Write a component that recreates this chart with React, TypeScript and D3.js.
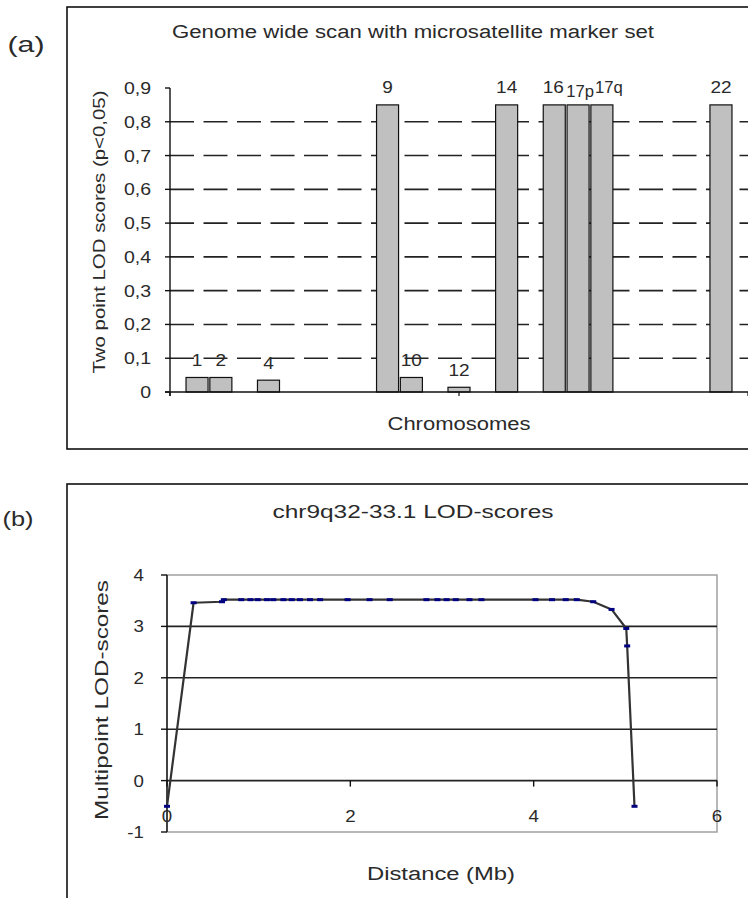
import React from "react";
import * as d3 from "d3";

// ---------- Panel (a) data ----------
const chromosomes = ["1","2","3","4","5","6","7","8","9","10","11","12","13","14","15","16","17p","17q","18","19","20","21","22"];
const twoPointLod: (number | null)[] = [0.043,0.043,null,0.035,null,null,null,null,0.85,0.043,null,0.014,null,0.85,null,0.85,0.85,0.85,null,null,null,null,0.85];
const lodTicks = [0,0.1,0.2,0.3,0.4,0.5,0.6,0.7,0.8,0.9];
const lodTickLabels = ["0","0,1","0,2","0,3","0,4","0,5","0,6","0,7","0,8","0,9"];
const gridTicksA = [0.1,0.2,0.3,0.4,0.5,0.6,0.7,0.8];

// ---------- Panel (b) data ----------
const distanceMb = [0,0.29,0.6,0.62,0.81,0.91,0.99,1.09,1.16,1.27,1.36,1.45,1.56,1.67,1.97,2.21,2.43,2.83,2.95,3.05,3.15,3.3,3.43,4.02,4.2,4.35,4.47,4.65,4.85,5.01,5.02,5.1];
const multipointLod = [-0.5,3.46,3.48,3.52,3.52,3.52,3.52,3.52,3.52,3.52,3.52,3.52,3.52,3.52,3.52,3.52,3.52,3.52,3.52,3.52,3.52,3.52,3.52,3.52,3.52,3.52,3.52,3.48,3.33,2.96,2.62,-0.5];
const xTicksB = [0,2,4,6];
const yTicksB = [-1,0,1,2,3,4];
const gridTicksB = [0,1,2,3];

const FONT = "'Liberation Sans', Arial, Helvetica, sans-serif";
const TEXT = "#2a2a2a";

function ST({ x, y, size = 17, sx = 1.18, anchor = "middle", children }: any) {
  return (
    <text
      transform={`translate(${x},${y}) scale(${sx},1)`}
      textAnchor={anchor}
      fontSize={size}
      fontFamily={FONT}
      fill={TEXT}
    >
      {children}
    </text>
  );
}

function LT({ x, y, size = 17, len, anchor = "middle", rotate = 0, children }: any) {
  return (
    <text
      transform={`translate(${x},${y}) rotate(${rotate})`}
      textAnchor={anchor}
      fontSize={size}
      fontFamily={FONT}
      fill={TEXT}
      textLength={len}
      lengthAdjust="spacingAndGlyphs"
    >
      {children}
    </text>
  );
}

export default function App() {
  // Panel (a) scales
  const xA = d3.scaleBand<string>().domain(chromosomes).range([170, 748]).paddingInner(0.075).paddingOuter(0.673);
  const yA = d3.scaleLinear().domain([0, 0.9]).range([392, 88]);
  const labelShift: Record<string, [number, number]> = { "16": [-1, 0], "17p": [2, 3.5], "17q": [7, 0] };

  // Panel (b) scales
  const xB = d3.scaleLinear().domain([0, 6]).range([167, 717]);
  const yB = d3.scaleLinear().domain([-1, 4]).range([832, 575]);
  const line = d3.line<number>().x((d, i) => xB(distanceMb[i])).y((d) => yB(d));

  const [r0, r1] = xA.range();
  const xAxisTicks = [r0, (r0 + r1) / 2, r1];

  return (
    <svg width={748} height={898} style={{ position: "absolute", left: 0, top: 0, background: "#fff" }}>
      <rect x={0} y={0} width={748} height={898} fill="#fff" />

      {/* ---------------- Panel (a) ---------------- */}
      <rect x={67} y={7} width={720} height={442} fill="none" stroke="#111" strokeWidth={1.6} />
      <LT x={26} y={52} size={22} len={37}>(a)</LT>
      <LT x={413} y={38} size={18} len={482}>Genome wide scan with microsatellite marker set</LT>

      {gridTicksA.map((t) => (
        <line key={t} x1={170} x2={748} y1={yA(t)} y2={yA(t)} stroke="#222" strokeWidth={1.6} strokeDasharray="24,9.5" />
      ))}

      {chromosomes.map((c, i) => {
        const v = twoPointLod[i];
        if (v == null) return null;
        return (
          <rect key={c} x={xA(c)!} y={yA(v)} width={xA.bandwidth()} height={yA(0) - yA(v)} fill="#c0c0c0" stroke="#111" strokeWidth={1.2} />
        );
      })}
      {chromosomes.map((c, i) => {
        const v = twoPointLod[i];
        if (v == null) return null;
        const [dx, dy] = labelShift[c] || [0, 0];
        const sx = c.length > 2 ? 0.98 : 1.12;
        return (
          <ST key={"l" + c} x={xA(c)! + xA.bandwidth() / 2 + dx} y={yA(v) - 11.5 + dy} size={17} sx={sx}>
            {c}
          </ST>
        );
      })}

      {/* axes */}
      <line x1={170} x2={170} y1={yA(0.9)} y2={396} stroke="#111" strokeWidth={1.4} />
      <line x1={165} x2={748} y1={yA(0)} y2={yA(0)} stroke="#111" strokeWidth={1.4} />
      {lodTicks.map((t) => (
        <line key={"t" + t} x1={165} x2={170} y1={yA(t)} y2={yA(t)} stroke="#111" strokeWidth={1.4} />
      ))}
      {xAxisTicks.map((x, i) => (
        <line key={"xt" + i} x1={x} x2={x} y1={yA(0)} y2={yA(0) + 4} stroke="#111" strokeWidth={1.2} />
      ))}
      {lodTicks.map((t, i) => (
        <ST key={"tl" + t} x={151} y={yA(t) + 6} anchor="end" size={16} sx={1.22}>
          {lodTickLabels[i]}
        </ST>
      ))}
      <LT x={105} y={232} size={17} len={283} rotate={-90}>Two point LOD scores (p&lt;0,05)</LT>
      <LT x={459} y={430} size={18} len={143}>Chromosomes</LT>

      {/* ---------------- Panel (b) ---------------- */}
      <rect x={67} y={484} width={720} height={440} fill="none" stroke="#111" strokeWidth={1.6} />
      <LT x={18} y={526} size={21} len={31}>(b)</LT>
      <LT x={413} y={518} size={18} len={281}>chr9q32-33.1 LOD-scores</LT>

      {/* plot border */}
      <rect x={xB(0)} y={yB(4)} width={xB(6) - xB(0)} height={yB(-1) - yB(4)} fill="none" stroke="#9a9a9a" strokeWidth={1.4} />
      {gridTicksB.map((t) => (
        <line key={"g" + t} x1={xB(0)} x2={xB(6)} y1={yB(t)} y2={yB(t)} stroke="#222" strokeWidth={1.6} />
      ))}
      <line x1={xB(0)} x2={xB(0)} y1={yB(4)} y2={yB(-1)} stroke="#111" strokeWidth={1.4} />
      {yTicksB.map((t) => (
        <line key={"yt" + t} x1={xB(0) - 6} x2={xB(0)} y1={yB(t)} y2={yB(t)} stroke="#111" strokeWidth={1.4} />
      ))}
      {xTicksB.map((t) => (
        <line key={"xt" + t} x1={xB(t)} x2={xB(t)} y1={yB(0)} y2={yB(0) + 6} stroke="#111" strokeWidth={1.4} />
      ))}
      {yTicksB.map((t) => (
        <ST key={"ytl" + t} x={144} y={yB(t) + 6} anchor="end" size={17} sx={1.1}>
          {String(t)}
        </ST>
      ))}
      {xTicksB.map((t) => (
        <ST key={"xtl" + t} x={xB(t)} y={822} size={17} sx={1.1}>
          {String(t)}
        </ST>
      ))}

      <path d={line(multipointLod) || ""} fill="none" stroke="#333" strokeWidth={2.2} strokeLinejoin="round" />
      {multipointLod.map((v, i) => (
        <rect key={"m" + i} x={xB(distanceMb[i]) - 3} y={yB(v) - 1.5} width={6} height={3} fill="#000080" />
      ))}

      <LT x={108} y={700} size={18} len={240} rotate={-90}>Multipoint LOD-scores</LT>
      <LT x={441} y={880} size={18} len={148}>Distance (Mb)</LT>
    </svg>
  );
}
